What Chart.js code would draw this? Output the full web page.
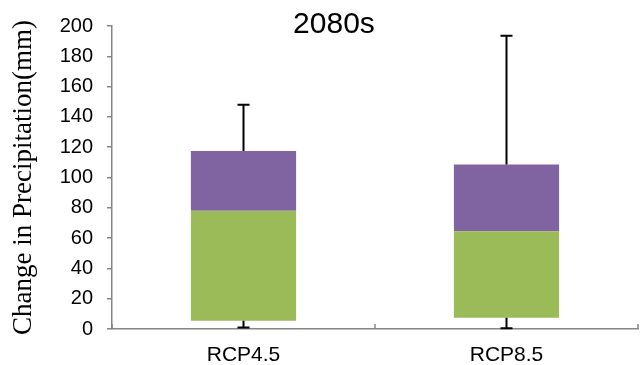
<!DOCTYPE html>
<html>
<head>
<meta charset="utf-8">
<script src="https://cdn.jsdelivr.net/npm/chart.js@4"></script>
<style>
  html, body { margin: 0; padding: 0; background: #fff; }
  #wrap { width: 641px; height: 365px; position: relative; }
</style>
</head>
<body>
<div id="wrap"><canvas id="boxChart"></canvas></div>
<script>
const labels = ["RCP4.5", "RCP8.5"];
const minVals = [1, 0.5];
const q1Vals = [5.5, 7.5];
const medianVals = [78, 64.5];
const q3Vals = [117.5, 108.5];
const maxVals = [148, 193.5];
const yTicks = [0, 20, 40, 60, 80, 100, 120, 140, 160, 180, 200];

const axisGray = "#868686";

// whiskers + inner x-axis ticks + title over the plot
const boxExtras = {
    id: "boxExtras",
    afterDatasetsDraw(chart) {
        const ctx = chart.ctx;
        const x = chart.scales.x;
        const y = chart.scales.y;
        ctx.save();
        ctx.strokeStyle = "#000";
        ctx.lineWidth = 2;
        labels.forEach((_, i) => {
            const px = x.getPixelForValue(i);
            const cap = 6;
            ctx.beginPath();
            ctx.moveTo(px, y.getPixelForValue(q3Vals[i]));
            ctx.lineTo(px, y.getPixelForValue(maxVals[i]));
            ctx.moveTo(px - cap, y.getPixelForValue(maxVals[i]));
            ctx.lineTo(px + cap, y.getPixelForValue(maxVals[i]));
            ctx.moveTo(px, y.getPixelForValue(q1Vals[i]));
            ctx.lineTo(px, y.getPixelForValue(minVals[i]));
            ctx.moveTo(px - cap, y.getPixelForValue(minVals[i]));
            ctx.lineTo(px + cap, y.getPixelForValue(minVals[i]));
            ctx.stroke();
        });

        // small tick marks pointing up at category boundaries
        ctx.strokeStyle = axisGray;
        ctx.lineWidth = 1.5;
        const step = (x.right - x.left) / labels.length;
        for (let k = 0; k <= labels.length; k++) {
            const bx = x.left + k * step;
            ctx.beginPath();
            ctx.moveTo(bx, x.top);
            ctx.lineTo(bx, x.top - 5);
            ctx.stroke();
        }

        ctx.fillStyle = "#000";
        ctx.font = "30px 'Liberation Sans', Arial, sans-serif";
        ctx.textAlign = "center";
        ctx.textBaseline = "alphabetic";
        ctx.fillText("2080s", chart.width * 0.521, 33);
        ctx.restore();
    }
};

const ctx = document.getElementById("boxChart").getContext("2d");
new Chart(ctx, {
    type: "bar",
    data: {
        labels: labels,
        datasets: [
            {
                label: "Q1-Median",
                data: labels.map((_, i) => [q1Vals[i], medianVals[i]]),
                backgroundColor: "#9BBB59",
                borderWidth: 0
            },
            {
                label: "Median-Q3",
                data: labels.map((_, i) => [medianVals[i], q3Vals[i]]),
                backgroundColor: "#8064A2",
                borderWidth: 0
            }
        ]
    },
    options: {
        responsive: true,
        maintainAspectRatio: false,
        animation: false,
        layout: { padding: { top: 14, right: 3, left: 0, bottom: 0 } },
        datasets: {
            bar: { barPercentage: 0.4, categoryPercentage: 1 }
        },
        plugins: {
            legend: { display: false },
            tooltip: { enabled: false }
        },
        scales: {
            x: {
                stacked: true,
                grid: { display: false, tickLength: 0 },
                border: { display: true, color: axisGray, width: 1.5 },
                ticks: {
                    color: "#000",
                    padding: 14,
                    font: { family: "'Liberation Sans', Arial, sans-serif", size: 21 }
                },
                afterFit: (scale) => { scale.height = 36; }
            },
            y: {
                stacked: false,
                min: 0,
                max: 200,
                afterBuildTicks: (scale) => {
                    scale.ticks = yTicks.map(v => ({ value: v }));
                },
                grid: {
                    drawOnChartArea: false,
                    color: axisGray,
                    tickLength: 5,
                    lineWidth: 1.5
                },
                border: { display: true, color: axisGray, width: 1.5 },
                ticks: {
                    color: "#000",
                    padding: 14,
                    font: { family: "'Liberation Sans', Arial, sans-serif", size: 20 }
                },
                title: {
                    display: true,
                    text: "Change in Precipitation(mm)",
                    color: "#000",
                    padding: { top: 8, bottom: 0 },
                    font: { family: "'Liberation Serif', 'Times New Roman', serif", size: 27 }
                },
                afterFit: (scale) => { scale.width = 112; }
            }
        }
    },
    plugins: [boxExtras]
});
</script>
</body>
</html>
